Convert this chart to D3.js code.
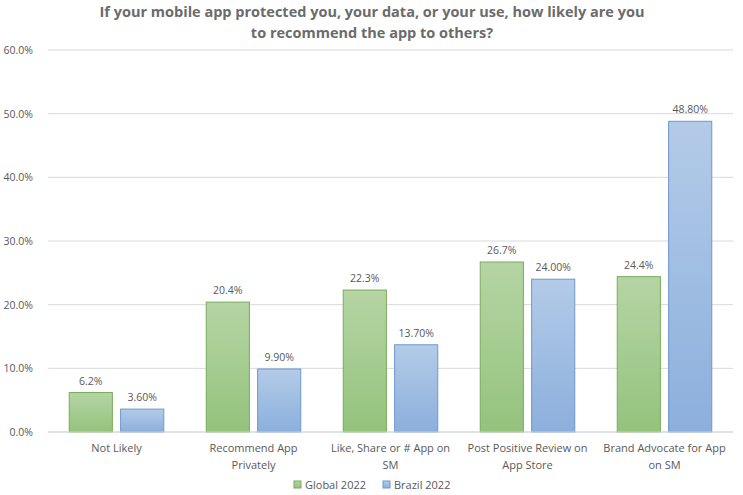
<!DOCTYPE html>
<html>
<head>
<meta charset="utf-8">
<script src="https://cdn.jsdelivr.net/npm/d3@7"></script>
<style>
  body { margin: 0; background: #fff; }
  text { font-family: 'Open Sans', 'Noto Sans', sans-serif; }
</style>
</head>
<body>
<div id="chart"></div>
<script>
// chart data
let categories = [
  ['Not Likely'],
  ['Recommend App', 'Privately'],
  ['Like, Share or # App on', 'SM'],
  ['Post Positive Review on', 'App Store'],
  ['Brand Advocate for App', 'on SM']
]
let seriesNames = ['Global 2022', 'Brazil 2022']
let globalValues = [6.2, 20.4, 22.3, 26.7, 24.4]
let brazilValues = [3.6, 9.9, 13.7, 24.0, 48.8]
let yTicks = [0, 10, 20, 30, 40, 50, 60]

let width = 743
let height = 495
let plotLeft = 48
let plotRight = 733
let plotTop = 50
let plotBottom = 432

let textColor = '#595959'
let palette = [
  { top: '#b5d5a4', bottom: '#94c37d', stroke: '#7aab5c' },
  { top: '#b3cbe8', bottom: '#8cafdc', stroke: '#6d98cc' }
]

let svg = d3
  .select('#chart')
  .append('svg')
  .attr('width', width)
  .attr('height', height)

// gradients for bars
let defs = svg.append('defs')
palette.forEach((p, i) => {
  let g = defs
    .append('linearGradient')
    .attr('id', 'grad' + i)
    .attr('x1', 0).attr('y1', 0)
    .attr('x2', 0).attr('y2', 1)
  g.append('stop').attr('offset', '0%').attr('stop-color', p.top)
  g.append('stop').attr('offset', '100%').attr('stop-color', p.bottom)
})

// title
svg
  .append('g')
  .selectAll('text')
  .data([
    'If your mobile app protected you, your data, or your use, how likely are you',
    'to recommend the app to others?'
  ])
  .enter()
  .append('text')
  .attr('x', 372)
  .attr('y', (d, i) => 17 + i * 21)
  .attr('text-anchor', 'middle')
  .attr('font-size', 14.5)
  .attr('font-weight', 'bold')
  .attr('fill', '#6b6b6b')
  .text(d => d)

// scales
let xScale = d3
  .scaleBand()
  .domain(d3.range(categories.length))
  .range([plotLeft, plotRight])

let yScale = d3
  .scaleLinear()
  .domain([0, 60])
  .range([plotBottom, plotTop])

// gridlines
svg
  .append('g')
  .selectAll('line')
  .data(yTicks)
  .enter()
  .append('line')
  .attr('x1', plotLeft)
  .attr('x2', plotRight)
  .attr('y1', d => yScale(d))
  .attr('y2', d => yScale(d))
  .attr('stroke', '#d9d9d9')
  .attr('stroke-width', 1)

// y axis
let yAxis = svg
  .append('g')
  .attr('transform', 'translate(' + (plotLeft - 12) + ',0)')
  .call(
    d3.axisLeft(yScale)
      .tickValues(yTicks)
      .tickSize(0)
      .tickFormat(d => d.toFixed(1) + '%')
  )
yAxis.select('.domain').remove()
yAxis.selectAll('text')
  .attr('font-size', 10.5)
  .attr('fill', textColor)
  .attr('font-family', "'Open Sans', sans-serif")

// bars
let band = xScale.bandwidth()
let barW = band * 0.315
let gap = band * 0.06
let series = [globalValues, brazilValues]
let labelFormats = [d => d.toFixed(1) + '%', d => d.toFixed(2) + '%']

series.forEach((vals, s) => {
  let offset = s === 0 ? band / 2 - gap / 2 - barW : band / 2 + gap / 2
  let g = svg.append('g')
  g.selectAll('rect')
    .data(vals)
    .enter()
    .append('rect')
    .attr('x', (d, i) => xScale(i) + offset)
    .attr('y', d => yScale(d))
    .attr('width', barW)
    .attr('height', d => plotBottom - yScale(d))
    .attr('fill', 'url(#grad' + s + ')')
    .attr('stroke', palette[s].stroke)
    .attr('stroke-width', 1)

  g.selectAll('text')
    .data(vals)
    .enter()
    .append('text')
    .attr('x', (d, i) => xScale(i) + offset + barW / 2)
    .attr('y', d => yScale(d) - 8)
    .attr('text-anchor', 'middle')
    .attr('font-size', 10.5)
    .attr('fill', textColor)
    .text(labelFormats[s])
})

// baseline
svg
  .append('line')
  .attr('x1', plotLeft)
  .attr('x2', plotRight)
  .attr('y1', plotBottom)
  .attr('y2', plotBottom)
  .attr('stroke', '#d9d9d9')

// category labels
let catG = svg
  .append('g')
  .selectAll('text')
  .data(categories)
  .enter()
  .append('text')
  .attr('x', (d, i) => xScale(i) + band / 2)
  .attr('y', 452)
  .attr('text-anchor', 'middle')
  .attr('font-size', 11)
  .attr('fill', textColor)
catG.selectAll('tspan')
  .data(d => d)
  .enter()
  .append('tspan')
  .attr('x', function () { return d3.select(this.parentNode).attr('x') })
  .attr('dy', (d, i) => (i === 0 ? 0 : 17))
  .text(d => d)

// legend
let legendX = [294, 383]
let legend = svg
  .append('g')
  .selectAll('g')
  .data(seriesNames)
  .enter()
  .append('g')
  .attr('transform', (d, i) => 'translate(' + legendX[i] + ',481)')
legend
  .append('rect')
  .attr('width', 7)
  .attr('height', 7)
  .attr('fill', (d, i) => 'url(#grad' + i + ')')
  .attr('stroke', (d, i) => palette[i].stroke)
legend
  .append('text')
  .attr('x', 11)
  .attr('y', 8)
  .attr('font-size', 11)
  .attr('fill', textColor)
  .text(d => d)
</script>
</body>
</html>
